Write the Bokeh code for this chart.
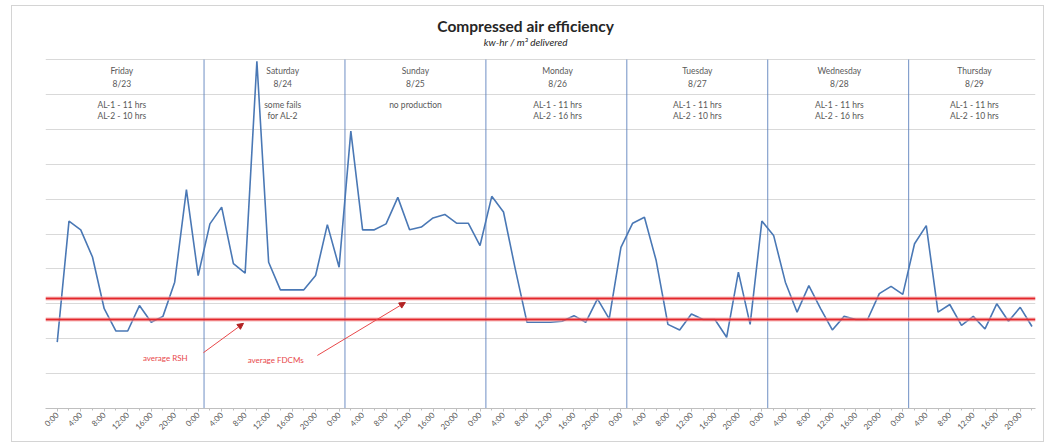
import math
from bokeh.plotting import figure
from bokeh.models import Range1d, FixedTicker, Span, Arrow, NormalHead
from bokeh.core.properties import value
from bokeh.embed import file_html
from bokeh.resources import INLINE

# ---- data ----
efficiency = [
    1.90, 5.37, 5.12, 4.34, 2.86, 2.22, 2.22, 2.95, 2.47, 2.64, 3.62, 6.27,   # Fri
    3.81, 5.29, 5.77, 4.15, 3.88, 9.95, 4.19, 3.40, 3.40, 3.40, 3.81, 5.27,   # Sat
    4.05, 7.95, 5.12, 5.12, 5.29, 6.05, 5.12, 5.20, 5.46, 5.56, 5.31, 5.31,   # Sun
    4.67, 6.08, 5.63, 4.00, 2.47, 2.47, 2.47, 2.50, 2.66, 2.47, 3.14, 2.57,   # Mon
    4.62, 5.31, 5.48, 4.24, 2.41, 2.25, 2.71, 2.55, 2.55, 2.04, 3.91, 2.41,   # Tue
    5.37, 4.96, 3.62, 2.76, 3.52, 2.86, 2.25, 2.64, 2.55, 2.55, 3.29, 3.50,   # Wed
    3.27, 4.72, 5.24, 2.76, 2.98, 2.38, 2.64, 2.28, 3.00, 2.50, 2.90, 2.35,   # Thu
]
hours = [f"{h}:00" for h in range(0, 24, 2)]
days = ["Friday", "Saturday", "Sunday", "Monday", "Tuesday", "Wednesday", "Thursday"]
dates = ["8/23", "8/24", "8/25", "8/26", "8/27", "8/28", "8/29"]
notes_line1 = ["AL-1 - 11 hrs", "some fails", "no production", "AL-1 - 11 hrs",
               "AL-1 - 11 hrs", "AL-1 - 11 hrs", "AL-1 - 11 hrs"]
notes_line2 = ["AL-2 - 10 hrs", "for AL-2", "", "AL-2 - 16 hrs",
               "AL-2 - 10 hrs", "AL-2 - 16 hrs", "AL-2 - 10 hrs"]
averages = [3.15, 2.55]          # average FDCMs, average RSH
average_names = ["average FDCMs", "average RSH"]

n = len(efficiency)
idx = list(range(n))
tick_labels = {i: hours[i % 12] for i in range(0, n, 2)}

# ---- layout / style ----
FONT = value("Lato")
GREY = "#595959"

p = figure(width=1033, height=437, output_backend="svg", toolbar_location=None,
           title_location=None,
           x_range=Range1d(-1, 83.3), y_range=Range1d(0, 11.52),
           min_border_left=33, min_border_right=10, min_border_top=0,
           min_border_bottom=35)
p.outline_line_color = None
p.background_fill_color = "white"
p.border_fill_color = "white"
p.styles = {"margin-left": "11px", "margin-top": "5px",
            "border": "1px solid #D4D4D4"}

p.yaxis.visible = False
p.xgrid.visible = False
p.ygrid.ticker = FixedTicker(ticks=list(range(0, 11)))
p.ygrid.grid_line_color = "#D9D9D9"
p.ygrid.grid_line_width = 1

ax = p.xaxis[0]
ax.ticker = FixedTicker(ticks=list(range(0, n, 2)), minor_ticks=idx)
ax.major_label_overrides = tick_labels
ax.major_label_orientation = math.pi / 4
ax.major_label_text_font = "Lato"
ax.major_label_text_font_size = "8px"
ax.major_label_text_color = GREY
ax.major_label_standoff = 2
ax.axis_line_color = "#BFBFBF"
ax.major_tick_line_color = "#BFBFBF"
ax.minor_tick_line_color = "#BFBFBF"
ax.major_tick_out = 3
ax.major_tick_in = 0
ax.minor_tick_out = 2
ax.minor_tick_in = 0

# day separators
seps = [12.5 + 12 * k for k in range(6)]
p.segment(x0=seps, y0=[0] * 6, x1=seps, y1=[10] * 6,
          line_color="#5F83BE", line_width=1, line_alpha=0.9)

# average lines (glow + red)
for a in averages:
    p.add_layout(Span(location=a, dimension="width", line_color="#F6B3B3",
                      line_width=5, line_alpha=0.45))
for a in averages:
    p.add_layout(Span(location=a, dimension="width", line_color="#E3262B",
                      line_width=2))

# main series
p.line(idx, efficiency, line_color="#4A78B5", line_width=1.6)

# title & subtitle
p.text(x=[39.9], y=[10.97], text=["Compressed air efficiency"], text_font=FONT,
       text_font_style="bold", text_font_size="15.5px", text_align="center",
       text_baseline="middle", text_color="#262626")
p.text(x=[39.9], y=[10.49], text=["kw-hr / m³ delivered"], text_font=FONT,
       text_font_style="italic", text_font_size="10px", text_align="center",
       text_baseline="middle", text_color="#262626")

# day table
day_x = [5.5, 19.2, 30.5, 42.6, 54.5, 66.6, 78.1]
small = dict(text_font=FONT, text_font_size="8.5px", text_align="center",
             text_baseline="middle", text_color=GREY)
p.text(x=day_x, y=[9.66] * 7, text=days, **small)
p.text(x=day_x, y=[9.31] * 7, text=dates, **small)
p.text(x=day_x, y=[8.71] * 7, text=notes_line1, **small)
p.text(x=day_x, y=[8.37] * 7, text=notes_line2, **small)

# annotations
red = "#E8484A"
p.text(x=[9.2, 18.6], y=[1.46, 1.38], text=[average_names[1], average_names[0]],
       text_font=FONT, text_font_size="8px", text_align="center",
       text_baseline="middle", text_color=red)
p.add_layout(Arrow(end=NormalHead(size=6, fill_color="#B22222", line_color="#B22222"),
                   x_start=12.45, y_start=1.60, x_end=15.86, y_end=2.44,
                   line_color=red, line_width=1))
p.add_layout(Arrow(end=NormalHead(size=6, fill_color="#B22222", line_color="#B22222"),
                   x_start=22.15, y_start=1.52, x_end=29.64, y_end=3.04,
                   line_color=red, line_width=1))

open("out.html", "w").write(file_html(p, INLINE))
